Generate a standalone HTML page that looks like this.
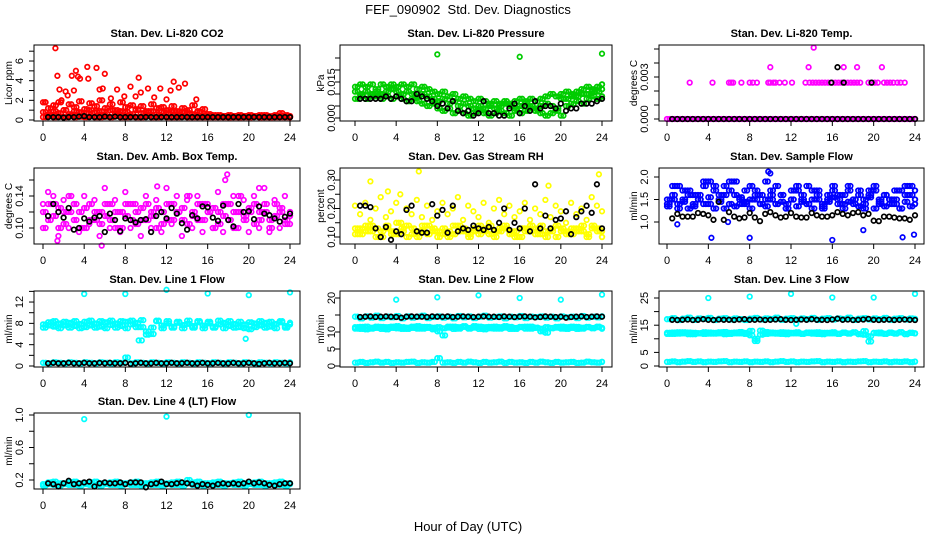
<!DOCTYPE html>
<html><head><meta charset="utf-8"><title>FEF_090902 Std. Dev. Diagnostics</title>
<style>
html,body{margin:0;padding:0;background:#fff;}
svg{display:block;font-family:"Liberation Sans",Arial,sans-serif;}
</style></head>
<body>
<svg id="chart" width="936" height="540" viewBox="0 0 936 540" xmlns="http://www.w3.org/2000/svg">
<text x="468" y="14" text-anchor="middle" font-size="13" xml:space="preserve">FEF_090902  Std. Dev. Diagnostics</text>
<text x="468" y="531" text-anchor="middle" font-size="13">Hour of Day (UTC)</text>
</svg>
<script>
// ---- categories ----
const xTicks = [0,4,8,12,16,20,24];
// ---- CO2 ----
const co2Low = [0.3,0.4,0.3,0.35,0.3,0.4,0.3,0.35,0.3,0.4,0.3,0.3,0.35,0.3,0.4,0.3,0.3,0.35,0.3,0.3,0.4,0.3,0.3,0.35,0.3,0.3,0.3,0.35,0.3,0.3,0.3,0.3,0.3,0.3,0.35,0.3,0.3,0.3,0.3,0.3,0.3,0.35,0.3,0.3,0.3,0.3,0.4,0.3,0.3];
const co2Mid = [1.8,1.2,1.5,1.8,1.0,1.6,1.3,1.9,1.1,1.7,1.4,2.0,1.2,1.6,1.0,1.8,1.3,1.5,1.1,1.4,0.9,1.6,1.2,1.3,1.0,1.4,0.9,1.2,1.0,1.5,0.8,1.1,0.6,0.5,0.5,0.4,0.5,0.4,0.5,0.4,0.5,0.4,0.5,0.5,0.4,0.5,0.7,0.5,0.4];
const co2Mid2 = [0.8,0.6,0.9,0.7,1.0,0.6,0.9,0.8,0.7,1.0,0.8,0.9,0.6,1.0,0.7,0.9,0.8,0.6,1.0,0.7,0.8,0.9,0.6,0.8,0.7,0.9,0.6,0.8,0.7,0.6,0.9,0.5,0.4,0.4,0.3,0.4,0.3,0.4,0.3,0.4,0.3,0.4,0.3,0.4,0.3,0.4,0.3,0.4,0.3];
const co2SpikeX = [1.2,1.4,1.6,2.2,2.8,3.2,3.4,3.6,4.3,4.4,5.2,5.8,6.0,7.2,8.5,9.3,9.5,10.2,11.4,12.4,12.7,13.2,13.8,14.9,3.0,5.5,9.0,7.9,2.4,0.2,1.8,6.6,10.8,12.0];
const co2SpikeY = [7.3,4.5,3.1,2.9,4.5,5.0,4.4,4.2,5.4,4.2,5.3,3.2,4.7,3.1,3.4,4.3,2.8,3.2,3.2,3.0,3.9,3.3,3.7,2.1,3.0,3.1,2.4,2.4,2.5,1.8,2.0,2.2,2.3,2.1];
const co2Black = [0.3,0.3,0.3,0.25,0.3,0.3,0.35,0.4,0.3,0.3,0.3,0.35,0.3,0.35,0.3,0.3,0.3,0.3,0.3,0.3,0.3,0.3,0.3,0.3,0.3,0.3,0.3,0.3,0.3,0.3,0.3,0.3,0.3,0.3,0.3,0.3,0.3,0.3,0.3,0.3,0.3,0.3,0.3,0.3,0.3,0.3,0.3,0.3];
// ---- Pressure ----
const presHigh = [0.013,0.014,0.013,0.014,0.012,0.014,0.013,0.014,0.013,0.014,0.013,0.014,0.012,0.013,0.012,0.011,0.010,0.011,0.009,0.010,0.008,0.009,0.008,0.007,0.008,0.007,0.006,0.007,0.006,0.007,0.006,0.007,0.008,0.007,0.008,0.007,0.008,0.009,0.010,0.009,0.010,0.011,0.010,0.011,0.012,0.013,0.012,0.013,0.014];
const presLow = [0.008,0.009,0.008,0.009,0.009,0.008,0.009,0.008,0.009,0.008,0.007,0.008,0.007,0.006,0.005,0.006,0.004,0.003,0.004,0.002,0.003,0.002,0.001,0.002,0.003,0.002,0.001,0.002,0.003,0.002,0.001,0.003,0.002,0.003,0.004,0.003,0.002,0.001,0.002,0.003,0.001,0.005,0.006,0.007,0.006,0.008,0.009,0.008,0.009];
const presMid = [0.011,0.010,0.011,0.010,0.011,0.010,0.011,0.012,0.011,0.010,0.011,0.010,0.009,0.010,0.009,0.008,0.007,0.008,0.006,0.007,0.005,0.006,0.005,0.004,0.005,0.004,0.005,0.004,0.005,0.006,0.005,0.004,0.005,0.006,0.005,0.004,0.005,0.006,0.005,0.004,0.008,0.008,0.009,0.009,0.010,0.010,0.011,0.011,0.012];
const presSpikeX = [8,16,24];
const presSpikeY = [0.0265,0.0255,0.0268];
const presBlack = [0.008,0.008,0.008,0.008,0.008,0.009,0.008,0.009,0.008,0.007,0.007,0.010,0.009,0.008,0.007,0.005,0.006,0.004,0.007,0.003,0.002,0.003,0.001,0.002,0.007,0.002,0.002,0.001,0.001,0.004,0.006,0.002,0.005,0.003,0.007,0.004,0.005,0.005,0.004,0.006,0.003,0.004,0.004,0.006,0.006,0.006,0.007,0.008];
// ---- Li-820 Temp ----
const tempZero = [0,0,0,0,0,0,0,0,0,0,0,0,0,0,0,0,0,0,0,0,0,0,0,0,0,0,0,0,0,0,0,0,0,0,0,0,0,0,0,0,0,0,0,0,0,0,0,0,0];
const tempLevel2X = [2.2,4.4,6.0,6.2,6.4,7.2,8.0,8.3,8.7,9.8,10.0,10.3,10.5,10.9,11.4,12.1,13.4,13.8,14.1,14.4,14.7,15.0,15.3,15.6,16.0,16.3,16.6,16.9,17.2,17.5,17.8,18.1,18.4,18.7,19.5,19.8,20.1,20.4,21.0,21.3,21.6,21.9,22.3,22.6,23.0];
const tempLevel2Y = [0.0026,0.0026,0.0026,0.0026,0.0026,0.0026,0.0026,0.0026,0.0026,0.0026,0.0026,0.0026,0.0026,0.0026,0.0026,0.0026,0.0026,0.0026,0.0026,0.0026,0.0026,0.0026,0.0026,0.0026,0.0026,0.0026,0.0026,0.0026,0.0026,0.0026,0.0026,0.0026,0.0026,0.0026,0.0026,0.0026,0.0026,0.0026,0.0026,0.0026,0.0026,0.0026,0.0026,0.0026,0.0026];
const tempHighX = [10.0,13.7,17.1,18.4,20.8,14.2];
const tempHighY = [0.0037,0.0037,0.0037,0.0037,0.0037,0.0051];
const tempBlack = [0,0,0,0,0,0,0,0,0,0,0,0,0,0,0,0,0,0,0,0,0,0,0,0,0,0,0,0,0,0,0,0,0,0,0,0,0,0,0,0,0,0,0,0,0,0,0,0];
const tempBlackExX = [15.9,16.5,17.1,19.8];
const tempBlackExY = [0.0026,0.0037,0.0026,0.0026];
// ---- Amb Box Temp ----
const boxA = [0.12,0.11,0.13,0.10,0.12,0.14,0.11,0.12,0.10,0.13,0.11,0.12,0.13,0.11,0.12,0.10,0.13,0.11,0.12,0.11,0.13,0.12,0.10,0.12,0.11,0.13,0.12,0.11,0.14,0.12,0.11,0.13,0.12,0.10,0.12,0.13,0.11,0.12,0.14,0.11,0.12,0.13,0.11,0.12,0.10,0.13,0.12,0.11,0.12];
const boxB = [0.10,0.13,0.115,0.125,0.105,0.12,0.13,0.10,0.125,0.11,0.12,0.105,0.115,0.13,0.10,0.12,0.115,0.13,0.105,0.125,0.11,0.115,0.125,0.105,0.13,0.11,0.12,0.125,0.105,0.115,0.13,0.11,0.12,0.125,0.105,0.115,0.13,0.10,0.12,0.115,0.125,0.105,0.12,0.13,0.11,0.115,0.125,0.105,0.115];
const boxC = [0.13,0.145,0.14,0.09,0.135,0.10,0.13,0.095,0.14,0.105,0.135,0.09,0.15,0.10,0.135,0.095,0.145,0.10,0.13,0.09,0.14,0.10,0.135,0.095,0.15,0.105,0.14,0.09,0.135,0.10,0.14,0.095,0.13,0.10,0.145,0.095,0.13,0.14,0.10,0.135,0.095,0.14,0.10,0.15,0.095,0.135,0.10,0.14,0.105];
const boxSpikeX = [1.4,5.7,11.1,17.7,17.9,21.0];
const boxSpikeY = [0.084,0.078,0.152,0.160,0.167,0.150];
const boxBlack = [0.115,0.13,0.12,0.113,0.125,0.098,0.10,0.112,0.108,0.113,0.115,0.095,0.118,0.11,0.096,0.112,0.11,0.107,0.11,0.111,0.095,0.115,0.12,0.112,0.125,0.118,0.106,0.098,0.116,0.112,0.127,0.126,0.113,0.109,0.128,0.11,0.102,0.13,0.12,0.121,0.111,0.127,0.118,0.116,0.112,0.108,0.114,0.118];
// ---- Gas Stream RH ----
const rhA = [0.11,0.13,0.12,0.14,0.10,0.12,0.13,0.11,0.15,0.12,0.10,0.13,0.12,0.14,0.11,0.12,0.10,0.13,0.12,0.11,0.14,0.12,0.10,0.13,0.11,0.12,0.14,0.10,0.12,0.13,0.11,0.12,0.10,0.13,0.12,0.11,0.14,0.12,0.13,0.10,0.12,0.11,0.13,0.12,0.14,0.11,0.13,0.12,0.10];
const rhB = [0.13,0.11,0.14,0.12,0.13,0.10,0.14,0.12,0.11,0.13,0.14,0.11,0.10,0.12,0.14,0.13,0.12,0.11,0.10,0.14,0.12,0.13,0.11,0.12,0.14,0.13,0.11,0.12,0.13,0.14,0.12,0.10,0.13,0.12,0.14,0.13,0.11,0.10,0.12,0.14,0.13,0.12,0.11,0.13,0.12,0.10,0.14,0.13,0.12];
const rhC = [0.21,0.18,0.22,0.16,0.20,0.24,0.17,0.19,0.22,0.15,0.20,0.18,0.23,0.17,0.21,0.16,0.19,0.22,0.18,0.20,0.24,0.16,0.21,0.19,0.17,0.22,0.15,0.20,0.23,0.18,0.21,0.17,0.19,0.22,0.16,0.20,0.18,0.23,0.17,0.21,0.19,0.15,0.22,0.18,0.20,0.16,0.24,0.21,0.19];
const rhSpikeX = [1.5,6.2,23.7,3.2,4.4,18.8];
const rhSpikeY = [0.295,0.33,0.32,0.26,0.25,0.28];
const rhBlack = [0.21,0.21,0.205,0.13,0.10,0.135,0.09,0.12,0.11,0.195,0.21,0.12,0.115,0.115,0.215,0.175,0.195,0.115,0.21,0.12,0.13,0.125,0.14,0.13,0.125,0.135,0.125,0.15,0.20,0.125,0.15,0.13,0.20,0.12,0.285,0.13,0.175,0.13,0.16,0.165,0.19,0.11,0.17,0.19,0.21,0.185,0.285,0.13];
// ---- Sample Flow ----
const sfA = [1.4,1.6,1.8,1.5,1.7,1.4,1.6,1.8,1.9,1.7,1.5,1.8,1.9,1.6,1.4,1.7,1.5,1.6,1.4,1.5,1.7,1.8,1.6,1.4,1.5,1.7,1.6,1.8,1.5,1.7,1.4,1.6,1.7,1.5,1.6,1.8,1.4,1.7,1.5,1.6,1.7,1.5,1.6,1.4,1.5,1.7,1.6,1.8,1.5];
const sfB = [1.35,1.5,1.3,1.45,1.6,1.35,1.5,1.4,1.55,1.3,1.45,1.6,1.4,1.35,1.55,1.45,1.3,1.5,1.4,1.35,1.6,1.4,1.45,1.3,1.5,1.35,1.45,1.4,1.3,1.5,1.35,1.45,1.55,1.4,1.3,1.45,1.5,1.35,1.4,1.55,1.3,1.45,1.35,1.5,1.4,1.3,1.45,1.35,1.4];
const sfC = [1.5,1.8,1.4,1.7,1.3,1.6,1.5,1.9,1.4,1.8,1.6,1.3,1.7,1.9,1.5,1.4,1.8,1.7,1.6,1.9,1.5,1.4,1.6,1.3,1.7,1.8,1.5,1.4,1.7,1.6,1.3,1.5,1.8,1.6,1.4,1.7,1.5,1.6,1.3,1.7,1.8,1.4,1.6,1.5,1.7,1.3,1.8,1.6,1.7];
const sfSpikeX = [1.0,4.3,5.9,8.0,9.8,10.0,16.0,19.0,22.8,23.9];
const sfSpikeY = [0.95,0.65,1.0,0.65,2.12,2.08,0.6,0.82,0.66,0.72];
const sfBlack = [1.08,1.18,1.12,1.12,1.12,1.2,1.18,1.15,1.05,1.45,1.05,1.22,1.12,1.08,1.1,1.2,1.1,1.02,1.18,1.22,1.15,1.1,1.12,1.2,1.12,1.1,1.1,1.2,1.15,1.12,1.12,1.15,1.22,1.18,1.15,1.2,1.22,1.15,1.18,1.03,1.02,1.12,1.12,1.1,1.08,1.08,1.05,1.15];
// ---- Line 1 Flow ----
const l1A = [7.8,8.2,7.4,8.0,7.6,8.1,7.5,7.9,8.3,7.6,8.0,7.4,8.2,7.7,8.0,7.5,8.3,7.8,8.1,7.3,6.5,6.0,8.4,7.6,8.0,7.4,8.1,7.7,7.9,7.5,8.2,7.6,8.0,7.4,7.8,8.1,7.5,7.9,7.3,7.8,6.9,8.0,7.6,8.1,7.4,7.9,8.2,7.5,7.8];
const l1B = [7.2,7.6,8.4,7.1,8.3,7.2,8.4,7.1,7.3,8.5,7.2,8.4,7.1,8.5,7.2,8.4,7.1,8.5,7.3,8.6,5.9,7.2,8.5,7.1,8.4,7.2,8.3,7.1,8.5,7.2,8.4,7.1,8.3,7.2,8.5,7.1,8.4,7.2,8.3,7.1,8.2,7.3,8.4,7.2,8.3,7.1,8.4,7.2,8.1];
const l1C = [0.6,0.5,0.7,0.6,0.5,0.7,0.6,0.5,0.7,0.6,0.5,0.7,0.6,0.5,0.7,0.6,1.6,0.5,0.7,0.6,0.5,0.7,0.6,0.5,0.7,0.6,0.5,0.7,0.6,0.5,0.7,0.6,0.5,0.7,0.6,0.5,0.7,0.6,0.5,0.7,0.6,0.5,0.7,0.6,0.5,0.7,0.6,0.5,0.7];
const l1SpikeX = [4,8,12,16,20,24,9.3,9.6,19.7];
const l1SpikeY = [13.5,13.5,14.3,13.6,13.3,13.8,4.8,4.8,5.1];
const l1Black = [0.5,0.6,0.5,0.5,0.6,0.5,0.5,0.6,0.5,0.5,0.6,0.5,0.6,0.5,0.5,0.6,0.4,0.5,0.6,0.5,0.5,0.6,0.5,0.5,0.6,0.5,0.5,0.6,0.5,0.5,0.6,0.5,0.5,0.6,0.5,0.5,0.6,0.5,0.5,0.6,0.5,0.4,0.5,0.6,0.5,0.5,0.6,0.5];
// ---- Line 2 Flow ----
const l2Up = [14.5,14.0,14.6,14.2,14.8,14.1,14.5,14.3,14.7,14.0,14.6,14.2,14.5,14.8,14.1,14.4,14.6,14.2,14.5,14.0,14.7,14.3,14.6,14.1,14.5,14.8,14.2,14.4,14.6,14.0,14.5,14.3,14.7,14.1,14.5,14.4,14.6,14.2,14.5,14.0,14.6,14.3,14.5,14.1,14.7,14.2,14.5,14.3,14.6];
const l2MidA = [11,11.5,10.8,11.3,11.6,10.9,11.4,11.2,11.7,10.9,11.3,11.6,11.0,11.5,11.2,10.8,11.4,9,11.3,11.6,11.0,11.5,11.2,11.7,10.9,11.4,11.1,11.6,11.0,11.3,11.5,10.9,11.4,11.6,11.0,11.3,10.2,9.8,11.2,11.5,11.0,11.4,11.6,10.9,11.3,11.5,11.1,11.4,11.2];
const l2MidB = [11.4,10.9,11.6,11.0,11.2,11.5,10.8,11.6,11.1,11.4,10.9,11.2,11.7,11.0,11.5,11.3,10.2,11.1,11.6,10.9,11.4,11.7,11.0,11.3,11.6,10.8,11.5,11.0,11.4,11.7,10.9,11.2,11.5,11.0,11.6,11.2,11.0,11.4,11.1,11.3,11.6,10.9,11.2,11.5,11.0,11.4,11.2,11.6,11.0];
const l2Low = [1.0,1.2,0.9,1.1,1.3,1.0,1.2,0.9,1.1,1.0,1.2,1.3,0.9,1.1,1.0,1.2,2.3,1.0,1.1,0.9,1.2,1.0,1.3,1.1,0.9,1.2,1.0,1.1,1.3,0.9,1.2,1.0,1.1,0.9,1.2,1.0,1.3,1.1,0.9,1.2,1.0,1.1,1.2,0.9,1.0,1.3,1.1,1.0,1.2];
const l2SpikeX = [4,8,12,16,20,24];
const l2SpikeY = [19.5,20.2,20.8,20.0,19.5,21.0];
const l2Black = [14.4,14.5,14.6,14.4,14.5,14.6,14.5,14.4,14.2,14.5,14.6,14.5,14.5,14.4,14.6,14.5,14.5,14.6,14.4,14.5,14.6,14.5,14.4,14.5,14.6,14.5,14.5,14.4,14.6,14.5,14.4,14.5,14.6,14.5,14.3,14.4,14.6,14.5,14.4,14.5,14.2,14.4,14.5,14.6,14.4,14.5,14.6,14.5];
// ---- Line 3 Flow ----
const l3Up = [17.2,17.6,16.9,17.4,17.8,17.0,17.5,17.3,17.7,16.9,17.4,17.6,17.1,17.5,17.2,16.9,17.4,17.7,17.1,17.5,17.3,17.8,17.0,17.4,17.6,17.1,17.5,17.2,17.7,17.0,17.4,17.6,17.1,17.5,17.3,17.8,17.0,17.4,17.6,17.1,17.5,17.2,17.7,17.0,17.4,17.6,17.1,17.5,17.3];
const l3MidA = [12.2,11.8,12.4,12.0,12.3,11.7,12.1,12.4,11.9,12.2,12.0,12.5,11.8,12.3,12.0,12.2,11.3,10.0,11.5,12.5,12.0,12.2,11.8,12.3,12.0,12.4,11.9,12.1,12.3,11.8,12.2,12.0,12.4,11.9,12.2,12.0,12.3,11.8,11.5,9.0,12.1,12.3,11.9,12.2,12.0,12.4,11.8,12.2,12.0];
const l3MidB = [11.8,12.3,11.9,12.4,11.7,12.2,12.0,11.8,12.3,11.9,12.4,11.7,12.2,12.0,12.5,11.8,12.9,9.2,13.0,11.8,12.3,11.9,12.4,11.7,12.2,12.0,11.8,12.3,11.9,12.4,11.7,12.2,12.0,11.8,12.3,11.9,12.4,11.7,12.8,11.0,12.2,12.0,11.8,12.3,11.9,12.4,11.7,12.2,12.0];
const l3Low = [1.5,1.7,1.4,1.6,1.8,1.5,1.7,1.4,1.6,1.5,1.7,1.8,1.4,1.6,1.5,1.7,1.4,1.6,1.5,1.7,1.4,1.6,1.8,1.5,1.7,1.4,1.6,1.5,1.7,1.8,1.4,1.6,1.5,1.7,1.4,1.6,1.5,1.7,1.8,1.4,1.6,1.5,1.7,1.4,1.6,1.5,1.7,1.4,1.6];
const l3SpikeX = [4,8,12,16,20,24,12.5];
const l3SpikeY = [25.0,25.5,26.5,25.2,25.2,26.5,15.5];
const l3Black = [17.0,16.9,17.0,17.1,16.9,17.0,17.2,17.0,16.9,17.1,17.0,17.0,16.9,17.1,17.2,17.0,17.0,17.1,16.9,17.0,17.1,17.2,17.0,16.9,17.0,17.1,17.0,17.2,17.0,17.0,16.9,17.1,17.4,17.0,17.1,16.9,17.0,17.1,17.3,17.0,16.9,17.0,17.1,16.9,17.0,17.1,17.0,16.9];
// ---- Line 4 Flow ----
const l4A = [0.15,0.17,0.14,0.16,0.15,0.17,0.14,0.16,0.15,0.17,0.14,0.16,0.15,0.17,0.14,0.16,0.15,0.17,0.14,0.16,0.15,0.17,0.14,0.16,0.15,0.17,0.14,0.16,0.20,0.17,0.14,0.16,0.15,0.17,0.14,0.16,0.15,0.17,0.14,0.16,0.15,0.17,0.14,0.16,0.15,0.17,0.14,0.16,0.15];
const l4B = [0.13,0.15,0.18,0.13,0.16,0.14,0.18,0.13,0.16,0.14,0.18,0.13,0.16,0.14,0.18,0.13,0.16,0.14,0.18,0.13,0.16,0.14,0.18,0.13,0.16,0.14,0.18,0.13,0.16,0.14,0.18,0.13,0.16,0.14,0.18,0.13,0.16,0.14,0.18,0.13,0.16,0.14,0.18,0.13,0.16,0.14,0.18,0.13,0.16];
const l4SpikeX = [4,12,20];
const l4SpikeY = [0.95,0.98,1.0];
const l4Black = [0.16,0.15,0.12,0.16,0.19,0.15,0.16,0.17,0.18,0.12,0.16,0.17,0.16,0.16,0.17,0.15,0.17,0.17,0.17,0.11,0.15,0.16,0.18,0.15,0.15,0.16,0.17,0.16,0.15,0.13,0.15,0.14,0.13,0.15,0.16,0.15,0.16,0.15,0.16,0.18,0.16,0.17,0.16,0.14,0.13,0.15,0.16,0.16];

const svg = document.getElementById('chart');
const NS = 'http://www.w3.org/2000/svg';
function mk(tag, attrs, parent){
  const e = document.createElementNS(NS, tag);
  for (const k in attrs) e.setAttribute(k, attrs[k]);
  (parent||svg).appendChild(e);
  return e;
}
function colTimes(n, off){ const a=[]; for(let i=0;i<n;i++) a.push(Math.min(24, i*0.5 + (off||0))); return a; }
function blackTimes(n){ const a=[]; for(let i=0;i<n;i++) a.push(0.5+i*0.5); return a; }

const cols = [{l:34,r:300,x0:43,x1:290,yl:8,tl:19},{l:340,r:612,x0:355,x1:602,yl:320,tl:331},{l:659,r:924,x0:667,x1:915,yl:633,tl:644}];
const rows = [{t:45,b:121},{t:168,b:244},{t:291,b:367},{t:413,b:489}];

const panels = [
 {name:'co2',title:'Stan. Dev. Li-820 CO2',ylab:'Licor ppm',c:0,r:0,v0:0,p0:120,k:9.83,ticks:[0,1,2,3,4,5,6,7],labels:[0,2,4,6],fmt:v=>v,color:'#ff0000',
  series:[[null,co2Low,true],[null,co2Mid,true],[null,co2Mid2,true],[co2SpikeX,co2SpikeY]],black:[[null,co2Black]]},
 {name:'pressure',title:'Stan. Dev. Li-820 Pressure',ylab:'kPa',c:1,r:0,v0:0,p0:118,k:2400,ticks:[0,0.005,0.01,0.015,0.02,0.025],labels:[0,0.015],fmt:v=>v.toFixed(3),color:'#00cc00',
  series:[[null,presHigh,true],[null,presLow,true],[null,presMid,true],[presSpikeX,presSpikeY]],black:[[null,presBlack]]},
 {name:'licor-temp',title:'Stan. Dev. Li-820 Temp.',ylab:'degrees C',c:2,r:0,v0:0,p0:119,k:14000,ticks:[0,0.001,0.002,0.003,0.004,0.005],labels:[0,0.003],fmt:v=>v.toFixed(3),color:'#ff00ff',
  series:[[null,tempZero,true],[tempLevel2X,tempLevel2Y],[tempHighX,tempHighY]],black:[[null,tempBlack],[tempBlackExX,tempBlackExY]]},
 {name:'box-temp',title:'Stan. Dev. Amb. Box Temp.',ylab:'degrees C',c:0,r:1,v0:0.10,p0:228,k:800,ticks:[0.10,0.12,0.14,0.16],labels:[0.10,0.14],fmt:v=>v.toFixed(2),color:'#ff00ff',
  series:[[null,boxA,true],[null,boxB,true],[null,boxC],[boxSpikeX,boxSpikeY]],black:[[null,boxBlack]]},
 {name:'rh',title:'Stan. Dev. Gas Stream RH',ylab:'percent',c:1,r:1,v0:0.10,p0:237,k:285,ticks:[0.10,0.15,0.20,0.25,0.30],labels:[0.10,0.20,0.30],fmt:v=>v.toFixed(2),color:'#ffff00',
  series:[[null,rhA,true],[null,rhB,true],[null,rhC],[rhSpikeX,rhSpikeY]],black:[[null,rhBlack]]},
 {name:'sample-flow',title:'Stan. Dev. Sample Flow',ylab:'ml/min',c:2,r:1,v0:1.0,p0:222,k:45,ticks:[1.0,1.5,2.0],labels:[1.0,1.5,2.0],fmt:v=>v.toFixed(1),color:'#0000ff',
  series:[[null,sfA,true],[null,sfB,true],[null,sfC,true],[sfSpikeX,sfSpikeY]],black:[[null,sfBlack]]},
 {name:'line1-flow',title:'Stan. Dev. Line 1 Flow',ylab:'ml/min',c:0,r:2,v0:0,p0:366,k:5.33,ticks:[0,2,4,6,8,10,12,14],labels:[0,4,8,12],fmt:v=>v,color:'#00ffff',
  series:[[null,l1A,true],[null,l1B,true],[null,l1C,true],[l1SpikeX,l1SpikeY]],black:[[null,l1Black]]},
 {name:'line2-flow',title:'Stan. Dev. Line 2 Flow',ylab:'ml/min',c:1,r:2,v0:0,p0:366,k:3.4,ticks:[0,5,10,15,20],labels:[0,5,10,20],fmt:v=>v,color:'#00ffff',
  series:[[null,l2Up,true],[null,l2MidA,true],[null,l2MidB,true],[null,l2Low,true],[l2SpikeX,l2SpikeY]],black:[[null,l2Black]]},
 {name:'line3-flow',title:'Stan. Dev. Line 3 Flow',ylab:'ml/min',c:2,r:2,v0:0,p0:366,k:2.72,ticks:[0,5,10,15,20,25],labels:[0,5,15,25],fmt:v=>v,color:'#00ffff',
  series:[[null,l3Up,true],[null,l3MidA,true],[null,l3MidB,true],[null,l3Low,true],[l3SpikeX,l3SpikeY]],black:[[null,l3Black]]},
 {name:'line4-flow',title:'Stan. Dev. Line 4 (LT) Flow',ylab:'ml/min',c:0,r:3,v0:0.2,p0:480,k:81.25,ticks:[0.2,0.4,0.6,0.8,1.0],labels:[0.2,0.6,1.0],fmt:v=>v.toFixed(1),color:'#00ffff',
  series:[[null,l4A,true],[null,l4B,true],[l4SpikeX,l4SpikeY]],black:[[null,l4Black]]}
];

panels.forEach(p=>{
  const C = cols[p.c], R = rows[p.r];
  const xs = h => C.x0 + (h/24)*(C.x1-C.x0);
  const ys = v => p.p0 - (v - p.v0)*p.k;
  const g = mk('g',{});
  
  
  const t = mk('text',{x:(C.l+C.r)/2,y:R.t-8,'text-anchor':'middle','font-size':'11','font-weight':'bold'},g);
  t.textContent = p.title;
  
  
  const pts = mk('g',{fill:'none','stroke-width':'1.7'},g);
  
  
  const draw = (xv, sy, color)=>{
    sy.forEach((v,i)=>{
      const c = mk('circle',{cx:xs(xv[i]).toFixed(1),cy:ys(v).toFixed(1),r:'2.3',stroke:color},pts);
      
      
    });
  };
  p.series.forEach(s=>{
    if (s[0]) { draw(s[0], s[1], p.color); return; }
    draw(colTimes(s[1].length, 0), s[1], p.color);
    if (s[2]) draw(colTimes(s[1].length, 0.25), s[1], p.color);
  });
  p.black.forEach(s=>draw(s[0] || blackTimes(s[1].length), s[1], '#000'));
  const box = mk('rect',{x:C.l,y:R.t,width:C.r-C.l,height:R.b-R.t,fill:'none',stroke:'#000','stroke-width':'1'},g);
  
  
  const xa = mk('g',{},g);
  
  
  mk('line',{x1:xs(0),x2:xs(24),y1:R.b,y2:R.b,stroke:'#000'},xa);
  xTicks.forEach(h=>{
    mk('line',{x1:xs(h),x2:xs(h),y1:R.b,y2:R.b+5,stroke:'#000'},xa);
    const tl = mk('text',{x:xs(h),y:R.b+20,'text-anchor':'middle','font-size':'11'},xa);
    tl.textContent = h;
    
    
  });
  const ya = mk('g',{},g);
  
  
  const tmin = ys(p.ticks[0]), tmax = ys(p.ticks[p.ticks.length-1]);
  mk('line',{x1:C.l,x2:C.l,y1:tmin,y2:tmax,stroke:'#000'},ya);
  p.ticks.forEach(v=>{
    mk('line',{x1:C.l-5,x2:C.l,y1:ys(v),y2:ys(v),stroke:'#000'},ya);
  });
  p.labels.forEach(v=>{
    const y = ys(v);
    const tl = mk('text',{x:C.tl,y:y,'text-anchor':'middle','font-size':'11',transform:`rotate(-90 ${C.tl} ${y})`,dy:'4'},ya);
    tl.textContent = p.fmt(v);
    
    
  });
  const cy = (R.t+R.b)/2;
  const yl = mk('text',{x:C.yl,y:cy,'text-anchor':'middle','font-size':'10',transform:`rotate(-90 ${C.yl} ${cy})`,dy:'4'},ya);
  yl.textContent = p.ylab;
  
  
});
</script>
</body></html>
